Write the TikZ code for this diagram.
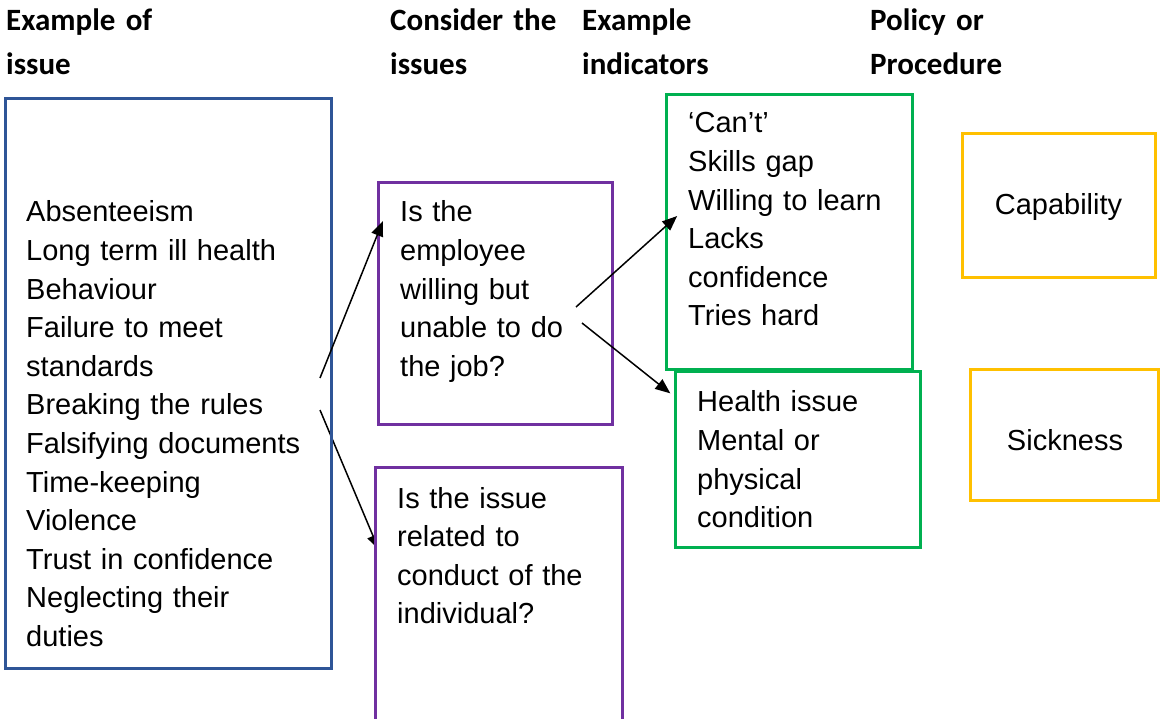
\documentclass[tikz,border=0pt]{standalone}
\usepackage{fontspec}
\setmainfont{Liberation Sans}
\newfontfamily\headfont{Carlito}
\usepackage{tikz}
\usetikzlibrary{arrows.meta,backgrounds}

\definecolor{issueblue}{HTML}{2F5597}
\definecolor{askpurple}{HTML}{7030A0}
\definecolor{signgreen}{HTML}{00B050}
\definecolor{policyamber}{HTML}{FFC000}

\begin{document}
\begin{tikzpicture}[x=1pt,y=-1pt,
                    box/.style={draw,line width=3pt,inner sep=0pt,outer sep=0pt,
                                anchor=north west},
                    txt/.style={anchor=base west,inner sep=0pt,align=left,text width=300pt,
                                font=\fontsize{29}{38.6}\selectfont},
                    word/.style={anchor=base,inner sep=0pt,font=\fontsize{29}{38.6}\selectfont},
                    head/.style={anchor=base west,inner sep=0pt,align=left,text width=200pt,
                                 font=\headfont\bfseries\fontsize{31}{44}\selectfont},
                    arr/.style={line width=1.5pt,-{Triangle[length=15pt,width=12pt]}}]
      \useasboundingbox (0,0) rectangle (1160,719);
      \clip (0,0) rectangle (1160,719);
      % column heads
      \node[head] (h1) at (6,31)   {Example of\\issue};
      \node[head] (h2) at (390,31) {Consider the\\issues};
      \node[head] (h3) at (582,31) {Example\\indicators};
      \node[head] (h4) at (870,31) {Policy or\\Procedure};
      % boxes
      \node[box,draw=issueblue,minimum width=326pt,minimum height=569pt]  (issues)  at (5,99)    {};
      \node[box,draw=askpurple,minimum width=234pt,minimum height=241pt]  (willing) at (378,183) {};
      \node[box,draw=askpurple,fill=white,minimum width=247pt,minimum height=273pt] (conduct) at (375,467) {};
      \node[box,draw=signgreen,minimum width=246pt,minimum height=275pt]  (cant)    at (666,95)  {};
      \node[box,draw=signgreen,minimum width=245pt,minimum height=175pt]  (health)  at (675,372) {};
      \node[box,draw=policyamber,minimum width=193pt,minimum height=144pt] (capab)  at (962,134) {};
      \node[box,draw=policyamber,minimum width=188pt,minimum height=130pt] (sick)   at (970,370) {};
      % texts
      \node[txt] (issuesT) at (26,222) {Absenteeism\\Long term ill health\\Behaviour\\Failure to meet\\standards\\Breaking the rules\\Falsifying documents\\Time-keeping\\Violence\\Trust in confidence\\Neglecting their\\duties};
      \node[txt] (willingT) at (400,222) {Is the\\employee\\willing but\\unable to do\\the job?};
      \node[txt] (conductT) at (397,508) {Is the issue\\related to\\conduct of the\\individual?};
      \node[txt] (cantT)    at (688,133) {‘Can’t’\\Skills gap\\Willing to learn\\Lacks\\confidence\\Tries hard};
      \node[txt] (healthT)  at (697,412) {Health issue\\Mental or\\physical\\condition};
      \node[word] (capabT)  at (1058.5,215) {Capability};
      \node[word] (sickT)   at (1065,450)   {Sickness};
      % arrows
      \coordinate (s1) at (320,378);
      \coordinate (s2) at (320,410);
      \coordinate (s3) at (576,307);
      \coordinate (s4) at (582,323);
      \draw[arr,shorten >=-13pt] (s1) -- (willing.149.6);
      \draw[arr,shorten >=-15pt] (s3) -- (cant.177.4);
      \draw[arr,shorten >=6pt]   (s4) -- (health.153);
      \begin{scope}[on background layer]
        \draw[arr,shorten >=-10pt] (s2) -- (conduct.153.9);
      \end{scope}
\end{tikzpicture}
\end{document}
